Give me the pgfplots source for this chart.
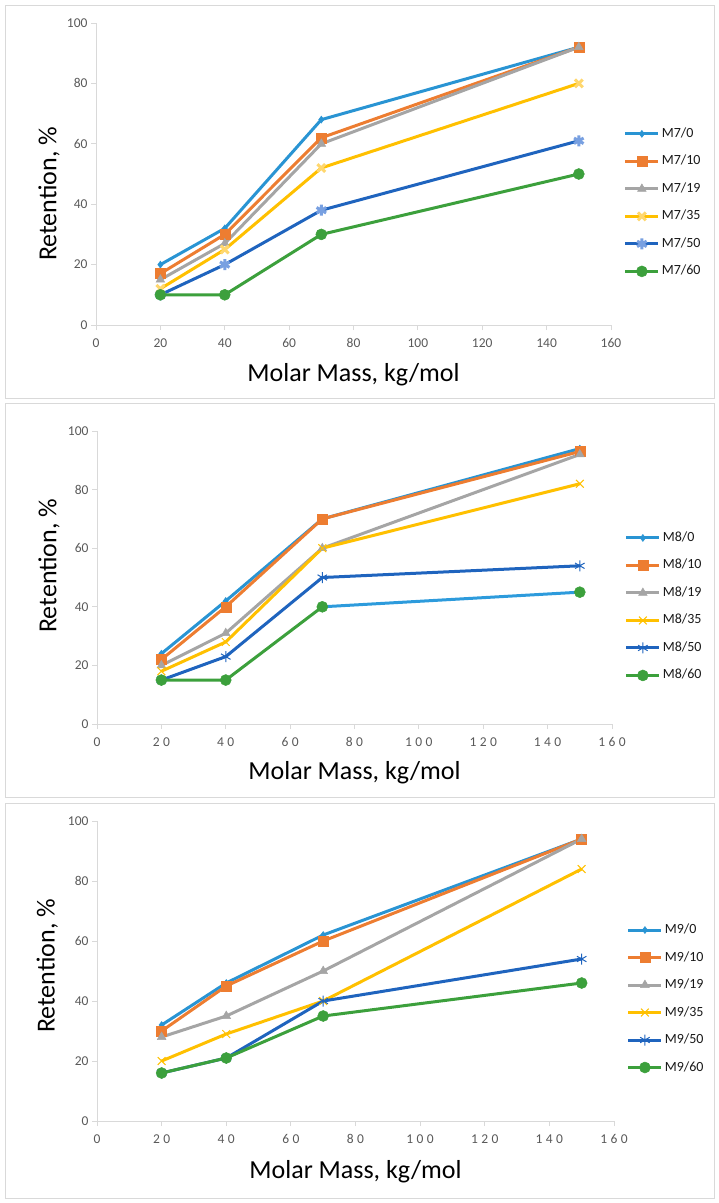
\documentclass[border=0pt]{standalone}
\usepackage{fontspec}
\setmainfont{Carlito}
\usepackage{pgfplots}
\pgfplotsset{compat=1.18}

\definecolor{c0}{RGB}{41,148,211}
\definecolor{c10}{RGB}{237,125,49}
\definecolor{c19}{RGB}{165,165,165}
\definecolor{c35}{RGB}{255,192,0}
\definecolor{c35l}{RGB}{255,215,110}
\definecolor{c50}{RGB}{31,100,190}
\definecolor{c50l}{RGB}{120,160,225}
\definecolor{c60}{RGB}{60,160,60}
\definecolor{segblue}{RGB}{45,155,220}
\definecolor{axisgray}{RGB}{217,217,217}
\definecolor{tickgray}{RGB}{89,89,89}
\definecolor{framegray}{RGB}{217,217,217}

\pgfplotsset{
  panel/.style={
    scale only axis, width=515pt, height=302pt,
    xmin=0, xmax=160, ymin=0, ymax=100,
    xtick={0,20,...,160}, ytick={0,20,...,100},
    axis lines*=left,
    axis line style={draw=axisgray, line width=1pt},
    tick style={draw=axisgray, line width=1pt},
    major tick length=5pt, tick align=outside,
    every tick label/.append style={font=\fontsize{13.5}{15}\selectfont, text=tickgray},
    xticklabel style={yshift=-5pt},
    /pgf/number format/assume math mode=true,
    xlabel={Molar Mass, kg/mol}, ylabel={Retention, \%},
    label style={font=\fontsize{26}{30}\selectfont},
    legend cell align=left,
    legend style={draw=none, fill=none, anchor=north west, inner sep=0pt, outer sep=0pt,
      font=\fontsize{14}{16}\selectfont, text=black!90, row sep=10.5pt, column sep=0pt,
      nodes={inner xsep=2pt, inner ysep=2pt, text height=10pt, text depth=3pt}},
    legend image code/.code={\draw[mark repeat=2,mark phase=2] plot coordinates {(0pt,0pt) (16.5pt,0pt) (33pt,0pt)};},
  },
  s0/.style={c0, line width=3pt, mark=diamond*, mark size=3.5pt, mark options={solid, line width=0.5pt, fill=c0}},
  s10/.style={c10, line width=3pt, mark=square*, mark size=5pt, mark options={solid, line width=0.5pt, fill=c10}},
  s19/.style={c19, line width=3pt, mark=triangle*, mark size=5pt, mark options={solid, line width=0.5pt, fill=c19}},
  s35/.style={c35, line width=3pt, mark=x, mark size=5.5pt, mark options={solid, line width=1pt}},
  s50/.style={c50, line width=3pt, mark=asterisk, mark size=5.5pt, mark options={solid, line width=1pt}},
  s60/.style={c60, line width=3pt, mark=*, mark size=5.5pt, mark options={solid, line width=0.5pt, fill=c60}},
}

\begin{document}
\begin{tikzpicture}
\useasboundingbox (0,0) rectangle (719pt,-1203pt);
\draw[framegray, line width=1pt] (5pt,-5pt) rectangle (714pt,-398pt);
\draw[framegray, line width=1pt] (5pt,-403pt) rectangle (714pt,-797pt);
\draw[framegray, line width=1pt] (5pt,-803pt) rectangle (714pt,-1198pt);

% ---------- Panel 1 : M7 ----------
\begin{axis}[panel, at={(96pt,-325pt)}, anchor=south west,
  xlabel style={at={(axis description cs:0.5,-0.166)}, anchor=center},
  ylabel style={at={(axis description cs:-0.091,0.434)}, anchor=center},
  legend style={at={(axis description cs:1.025,0.661)}}]
\addplot[s0] coordinates {(20,20) (40,32) (70,68) (150,92)};
\addlegendentry{M7/0}
\addplot[s10] coordinates {(20,17) (40,30) (70,62) (150,92)};
\addlegendentry{M7/10}
\addplot[s19] coordinates {(20,15) (40,27) (70,60) (150,92)};
\addlegendentry{M7/19}
\addplot[s35, mark options={draw=c35l}] coordinates {(20,12) (40,25) (70,52) (150,80)};
\addlegendentry{M7/35}
\addplot[s50, mark options={draw=c50l}] coordinates {(20,10) (40,20) (70,38) (150,61)};
\addlegendentry{M7/50}
\addplot[s60] coordinates {(20,10) (40,10) (70,30) (150,50)};
\addlegendentry{M7/60}
\end{axis}

% ---------- Panel 2 : M8 ----------
\begin{axis}[panel, at={(97pt,-724pt)}, anchor=south west, height=293pt,
  xticklabels={0,20,40,60,80,100,120,140,160},
  xticklabel style={font=\fontsize{13.5}{15}\selectfont\addfontfeature{LetterSpace=25}},
  xlabel style={at={(axis description cs:0.5,-0.167)}, anchor=center},
  ylabel style={at={(axis description cs:-0.093,0.54)}, anchor=center},
  legend style={at={(axis description cs:1.025,0.664)}}]
\addplot[s0] coordinates {(20,24) (40,42) (70,70) (150,94)};
\addlegendentry{M8/0}
\addplot[s10] coordinates {(20,22) (40,40) (70,70) (150,93)};
\addlegendentry{M8/10}
\addplot[s19] coordinates {(20,20) (40,31) (70,60) (150,92)};
\addlegendentry{M8/19}
\addplot[s35] coordinates {(20,18) (40,28) (70,60) (150,82)};
\addlegendentry{M8/35}
\addplot[s50] coordinates {(20,15) (40,23) (70,50) (150,54)};
\addlegendentry{M8/50}
\addplot[forget plot, segblue, line width=3pt, no marks] coordinates {(70,40) (150,45)};
\addplot[s60] coordinates {(20,15) (40,15) (70,40)};
\addlegendentry{M8/60}
\addplot[forget plot, s60, only marks] coordinates {(150,45)};
\end{axis}

% ---------- Panel 3 : M9 ----------
\begin{axis}[panel, at={(97pt,-1121pt)}, anchor=south west, height=300pt, width=517pt,
  xticklabels={0,20,40,60,80,100,120,140,160},
  xticklabel style={font=\fontsize{13.5}{15}\selectfont\addfontfeature{LetterSpace=25}},
  xlabel style={at={(axis description cs:0.5,-0.17)}, anchor=center},
  ylabel style={at={(axis description cs:-0.096,0.517)}, anchor=center},
  legend style={at={(axis description cs:1.025,0.665)}}]
\addplot[s0] coordinates {(20,32) (40,46) (70,62) (150,94)};
\addlegendentry{M9/0}
\addplot[s10] coordinates {(20,30) (40,45) (70,60) (150,94)};
\addlegendentry{M9/10}
\addplot[s19] coordinates {(20,28) (40,35) (70,50) (150,94)};
\addlegendentry{M9/19}
\addplot[s35] coordinates {(20,20) (40,29) (70,40) (150,84)};
\addlegendentry{M9/35}
\addplot[s50] coordinates {(20,16) (40,21) (70,40) (150,54)};
\addlegendentry{M9/50}
\addplot[s60] coordinates {(20,16) (40,21) (70,35) (150,46)};
\addlegendentry{M9/60}
\end{axis}
\end{tikzpicture}
\end{document}
